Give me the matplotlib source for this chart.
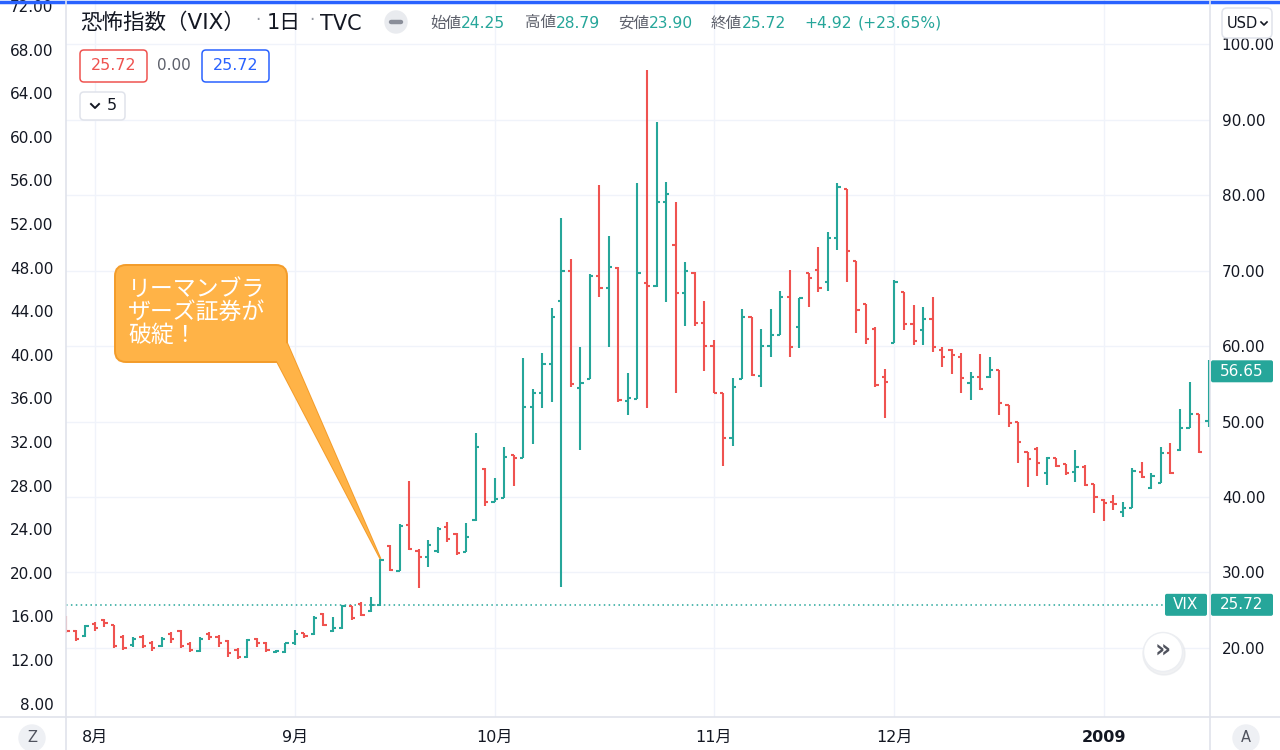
import matplotlib

matplotlib.use("Agg")
import matplotlib.pyplot as plt
import numpy as np
import pandas as pd
from matplotlib.patches import Circle, FancyBboxPatch, Polygon

plt.rcParams["font.family"] = ["DejaVu Sans", "Noto Sans CJK JP"]

# daily VIX bars
dates = [
    "2008-07-29", "2008-07-30", "2008-07-31",
    "2008-08-01", "2008-08-04", "2008-08-05", "2008-08-06", "2008-08-07", "2008-08-08",
    "2008-08-11", "2008-08-12", "2008-08-13", "2008-08-14", "2008-08-15",
    "2008-08-18", "2008-08-19", "2008-08-20", "2008-08-21", "2008-08-22",
    "2008-08-25", "2008-08-26", "2008-08-27", "2008-08-28", "2008-08-29",
    "2008-09-02", "2008-09-03", "2008-09-04", "2008-09-05",
    "2008-09-08", "2008-09-09", "2008-09-10", "2008-09-11", "2008-09-12",
    "2008-09-15", "2008-09-16", "2008-09-17", "2008-09-18", "2008-09-19",
    "2008-09-22", "2008-09-23", "2008-09-24", "2008-09-25", "2008-09-26",
    "2008-09-29", "2008-09-30",
    "2008-10-01", "2008-10-02", "2008-10-03",
    "2008-10-06", "2008-10-07", "2008-10-08", "2008-10-09", "2008-10-10",
    "2008-10-13", "2008-10-14", "2008-10-15", "2008-10-16", "2008-10-17",
    "2008-10-20", "2008-10-21", "2008-10-22", "2008-10-23", "2008-10-24",
    "2008-10-27", "2008-10-28", "2008-10-29", "2008-10-30", "2008-10-31",
    "2008-11-03", "2008-11-04", "2008-11-05", "2008-11-06", "2008-11-07",
    "2008-11-10", "2008-11-11", "2008-11-12", "2008-11-13", "2008-11-14",
    "2008-11-17", "2008-11-18", "2008-11-19", "2008-11-20", "2008-11-21",
    "2008-11-24", "2008-11-25", "2008-11-26", "2008-11-28",
    "2008-12-01", "2008-12-02", "2008-12-03", "2008-12-04", "2008-12-05",
    "2008-12-08", "2008-12-09", "2008-12-10", "2008-12-11", "2008-12-12",
    "2008-12-15", "2008-12-16", "2008-12-17", "2008-12-18", "2008-12-19",
    "2008-12-22", "2008-12-23", "2008-12-24", "2008-12-26",
    "2008-12-29", "2008-12-30", "2008-12-31",
    "2009-01-02", "2009-01-05", "2009-01-06", "2009-01-07", "2009-01-08",
    "2009-01-09", "2009-01-12", "2009-01-13", "2009-01-14", "2009-01-15",
    "2009-01-16", "2009-01-20",
]
opens = [
    24.0, 22.2, 21.6,
    23.2, 23.7, 23.0, 21.5, 20.4, 21.5,
    20.6, 20.3, 21.8, 22.2, 20.5,
    19.6, 21.9, 21.5, 20.9, 19.8,
    18.8, 21.2, 20.6, 19.5, 19.5,
    20.6, 22.0, 21.8, 24.5,
    22.3, 22.6, 25.5, 25.8, 24.9,
    25.7, 33.5, 30.2, 36.3, 32.9,
    32.1, 32.8, 36.0, 35.1, 32.7,
    36.9, 43.7,
    39.4, 39.9, 45.5,
    45.2, 51.9, 53.8, 57.6, 66.0,
    70.0, 54.5, 55.6, 69.3, 67.7,
    70.3, 52.7, 53.0, 68.4, 67.9,
    79.1, 73.4, 67.0, 69.7, 63.0,
    60.0, 53.8, 47.8, 55.6, 63.8,
    56.0, 60.0, 61.5, 66.5, 62.5,
    69.7, 70.1, 68.5, 74.3, 80.8,
    71.3, 65.5, 62.3, 55.9,
    60.4, 67.2, 62.9, 62.1, 63.6,
    59.5, 59.5, 58.5, 55.1, 55.9,
    55.9, 56.8, 52.2, 49.9, 46.0,
    46.3, 43.2, 45.2, 44.4,
    43.3, 44.0, 41.7,
    39.6, 39.4, 38.0, 38.5, 43.3,
    41.2, 41.9, 45.8, 46.2, 49.1,
    51.0, 50.1,
]
highs = [
    24.2, 22.4, 23.0,
    23.4, 23.8, 23.0, 21.7, 21.4, 21.7,
    20.9, 21.4, 22.1, 22.4, 20.8,
    21.4, 22.1, 21.7, 21.1, 20.0,
    21.2, 21.3, 20.8, 19.7, 20.7,
    22.4, 22.0, 24.2, 24.6,
    24.1, 25.7, 25.6, 26.1, 26.8,
    31.8, 33.6, 36.4, 42.1, 33.1,
    34.3, 36.0, 36.7, 35.2, 36.6,
    48.5, 43.8,
    42.5, 46.6, 45.6,
    58.4, 54.3, 59.1, 65.0, 77.0,
    71.5, 59.9, 69.5, 81.3, 74.6,
    70.5, 56.4, 81.6, 96.6, 89.7,
    81.7, 79.1, 71.1, 69.8, 66.0,
    60.8, 53.8, 55.8, 64.9, 63.8,
    62.3, 64.9, 67.3, 70.1, 66.4,
    69.7, 73.1, 75.1, 81.6, 80.8,
    71.3, 65.6, 62.5, 57.0,
    68.7, 67.2, 65.4, 65.2, 66.5,
    59.9, 59.6, 59.1, 56.6, 58.9,
    58.5, 56.8, 52.2, 49.9, 46.0,
    46.6, 45.3, 45.2, 44.4,
    46.2, 44.2, 41.7,
    39.7, 40.3, 39.3, 43.8, 44.6,
    43.2, 46.6, 47.2, 51.7, 55.2,
    51.0, 58.1,
]
lows = [
    22.0, 20.9, 21.4,
    22.2, 22.8, 20.0, 19.7, 20.1, 20.0,
    19.6, 20.1, 20.6, 20.0, 19.5,
    19.5, 21.0, 20.1, 18.8, 18.5,
    18.7, 20.1, 19.5, 19.3, 19.4,
    20.4, 21.3, 21.7, 22.9,
    22.1, 22.5, 23.7, 24.2, 24.8,
    25.6, 30.2, 30.2, 33.0, 28.0,
    30.7, 32.6, 34.0, 32.3, 32.7,
    36.8, 38.8,
    39.3, 39.9, 41.5,
    45.2, 47.0, 51.8, 52.6, 28.1,
    54.6, 46.2, 55.6, 66.5, 59.9,
    52.6, 50.9, 53.0, 51.8, 67.8,
    65.8, 53.8, 62.6, 62.6, 56.7,
    53.8, 44.1, 46.8, 55.6, 56.0,
    54.6, 58.5, 61.5, 58.5, 59.7,
    65.2, 67.2, 67.3, 72.7, 68.5,
    61.7, 60.3, 54.6, 50.5,
    60.4, 62.1, 60.1, 60.1, 59.2,
    57.2, 56.3, 53.8, 52.8, 54.2,
    55.8, 50.9, 49.3, 44.5, 41.3,
    42.8, 41.6, 44.0, 42.9,
    42.0, 41.4, 37.9,
    36.8, 38.3, 37.4, 38.5, 42.5,
    41.1, 41.9, 43.1, 46.1, 49.1,
    45.8, 49.3,
]
closes = [
    22.2, 21.2, 22.9,
    22.6, 23.3, 20.2, 20.0, 21.2, 20.3,
    20.0, 21.2, 21.2, 20.2, 19.8,
    21.2, 21.4, 20.6, 19.4, 18.8,
    21.0, 20.6, 19.8, 19.6, 20.6,
    21.9, 21.6, 24.0, 23.1,
    22.6, 25.5, 24.0, 24.4, 25.7,
    31.7, 30.3, 36.2, 33.1, 32.1,
    33.6, 35.7, 34.5, 32.6, 34.7,
    46.6, 39.3,
    39.8, 45.3, 45.1,
    51.9, 53.8, 57.6, 63.8, 69.9,
    55.0, 55.1, 69.3, 67.7, 70.4,
    52.9, 53.1, 69.7, 67.9, 79.1,
    80.1, 67.0, 69.9, 63.0, 60.0,
    53.8, 47.8, 54.6, 63.8, 56.2,
    60.0, 61.5, 66.5, 59.9, 66.4,
    69.0, 67.7, 74.3, 81.1, 72.6,
    64.8, 60.9, 54.8, 55.2,
    68.5, 62.9, 60.7, 63.6, 59.9,
    58.5, 58.8, 55.8, 55.9, 54.3,
    56.8, 52.5, 49.8, 47.3, 45.0,
    44.5, 45.2, 44.1, 43.2,
    44.0, 41.6, 40.0,
    39.2, 39.1, 38.5, 43.4, 42.7,
    42.8, 45.8, 43.2, 49.1, 51.0,
    46.0, 56.65,
]

last_close = 56.65
line_value = 25.72
right_ticks = [20, 30, 40, 50, 60, 70, 80, 90, 100]
left_ticks = [8, 12, 16, 20, 24, 28, 32, 36, 40, 44, 48, 52, 56, 60, 64, 68, 72]

UP = "#26a69a"
DOWN = "#ef5350"
GRID = "#f0f3fa"
BORDER = "#e0e3eb"
TEXT = "#131722"
MUTED = "#5d606b"

df = pd.DataFrame({"date": pd.to_datetime(dates), "open": opens, "high": highs,
                   "low": lows, "close": closes})
x = np.arange(len(df))
colors = np.where(df["close"] >= df["open"], UP, DOWN)

fig = plt.figure(figsize=(12.8, 7.5), dpi=100, facecolor="white")
W, H = 1280, 750
ax_l, ax_r, ax_t, ax_b = 66, 1210, 0, 717
ax = fig.add_axes([ax_l / W, (H - ax_b) / H, (ax_r - ax_l) / W, (ax_b - ax_t) / H])
ax.set_xlim(-0.04, 120.15)
ax.set_ylim(10.86, 105.83)

# month gridlines at first trading day of each month
month_start = df.index[df["date"].dt.month != df["date"].dt.month.shift()].tolist()[1:]
month_labels = []
for i in month_start:
    d = df["date"][i]
    month_labels.append(str(d.year) if d.month == 1 else f"{d.month}月")
for i in month_start:
    ax.axvline(i, color=GRID, lw=1, zorder=0)
for v in right_ticks:
    ax.axhline(v, color=GRID, lw=1, zorder=0)

# OHLC bars
tick_w = 0.34
ax.vlines(x, df["low"], df["high"], colors=colors, lw=1.5, zorder=3)
ax.hlines(df["open"], x - tick_w, x, colors=colors, lw=1.5, zorder=3)
ax.hlines(df["close"], x, x + tick_w, colors=colors, lw=1.5, zorder=3)

ax.axhline(line_value, xmax=(1165 - ax_l) / (ax_r - ax_l), color=UP, lw=1.1,
           ls=(0, (1, 2.2)), zorder=2)

for s in ax.spines.values():
    s.set_visible(False)

ax.yaxis.tick_right()
ax.set_yticks(right_ticks)
ax.set_yticklabels([f"{v:.2f}" for v in right_ticks])
ax.tick_params(axis="y", length=0, pad=8.5, labelsize=11, labelcolor=TEXT)
ax.set_xticks(month_start)
ax.set_xticklabels(month_labels)
ax.tick_params(axis="x", length=0, pad=9, labelsize=11.5, labelcolor=TEXT)
for lab in ax.get_xticklabels():
    if lab.get_text() == "2009":
        lab.set_fontweight("bold")


def r2l(r):
    return -0.756 + 0.6927 * np.asarray(r)


def l2r(l):
    return (np.asarray(l) + 0.756) / 0.6927


sec = ax.secondary_yaxis("left", functions=(r2l, l2r))
sec.set_yticks(left_ticks)
sec.set_yticklabels([f"{v:.2f}" for v in left_ticks])
sec.tick_params(length=0, pad=9, labelsize=11, labelcolor=TEXT)
sec.spines["left"].set_visible(False)

# pixel overlay for the chrome around the chart
ov = fig.add_axes([0, 0, 1, 1], zorder=5)
ov.set_xlim(0, W)
ov.set_ylim(H, 0)
ov.axis("off")
ov.patch.set_alpha(0)

ov.plot([0, W], [1.5, 1.5], color="#2962ff", lw=2.5)
ov.plot([0, W], [ax_b, ax_b], color=BORDER, lw=1.2)
ov.plot([ax_l, ax_l], [0, H], color=BORDER, lw=1.2)
ov.plot([ax_r, ax_r], [0, H], color=BORDER, lw=1.2)

# header legend
ov.text(80, 23, "恐怖指数（VIX）", fontsize=15.5, color=TEXT, va="center")
ov.text(258, 20, "·", fontsize=12, color="#9598a1", va="center", ha="center")
ov.text(267, 23, "1日", fontsize=15, color=TEXT, va="center")
ov.text(312, 20, "·", fontsize=12, color="#9598a1", va="center", ha="center")
ov.text(320, 24, "TVC", fontsize=15, color=TEXT, va="center")
ov.add_patch(Circle((396, 22), 11, color="#e9ebef"))
ov.plot([391, 401], [22, 22], color="#8a8e99", lw=3.2, solid_capstyle="round")
legend_parts = [(430, "始値", MUTED), (461, "24.25", UP), (525, "高値", MUTED),
                (556, "28.79", UP), (618, "安値", MUTED), (649, "23.90", UP),
                (711, "終値", MUTED), (742, "25.72", UP), (804, "+4.92", UP),
                (858, "(+23.65%)", UP)]
for px, s, c in legend_parts:
    ov.text(px, 23, s, fontsize=11.2, color=c, va="center")

ov.add_patch(FancyBboxPatch((80, 50), 67, 32, boxstyle="round,pad=0,rounding_size=4",
                            fc="white", ec=DOWN, lw=1.1))
ov.text(113.5, 66, "25.72", fontsize=11.5, color=DOWN, ha="center", va="center")
ov.text(174, 66, "0.00", fontsize=11, color=MUTED, ha="center", va="center")
ov.add_patch(FancyBboxPatch((202, 50), 67, 32, boxstyle="round,pad=0,rounding_size=4",
                            fc="white", ec="#2962ff", lw=1.1))
ov.text(235.5, 66, "25.72", fontsize=11.5, color="#2962ff", ha="center", va="center")
ov.add_patch(FancyBboxPatch((80, 92), 45, 28, boxstyle="round,pad=0,rounding_size=4",
                            fc="white", ec=BORDER, lw=1.1))
ov.plot([91, 95, 99], [104, 108, 104], color=TEXT, lw=1.4)
ov.text(107, 106, "5", fontsize=11.5, color=TEXT, va="center")

ov.add_patch(FancyBboxPatch((1222, 8), 50, 30, boxstyle="round,pad=0,rounding_size=5",
                            fc="white", ec=BORDER, lw=1.1))
ov.text(1227, 23, "USD", fontsize=10.5, color=TEXT, va="center")
ov.plot([1261, 1264, 1267], [22, 25, 22], color=TEXT, lw=1.2)


# price tags on the right scale
def tag(x0, width, value_y, label):
    y = H - ax.transData.transform((0, value_y))[1]
    ov.add_patch(FancyBboxPatch((x0, y - 11), width, 22, boxstyle="round,pad=0,rounding_size=2",
                                fc=UP, ec="none"))
    ov.text(x0 + width / 2, y, label, fontsize=11, color="white", ha="center", va="center")


tag(1211, 62, last_close, f"{last_close:.2f}")
tag(1211, 62, line_value, f"{line_value:.2f}")
tag(1165, 42, line_value, "VIX")

# scroll button and corner buttons
ov.add_patch(Circle((1164, 654), 21, color="#e6e8ec", alpha=0.6))
ov.add_patch(Circle((1163, 652), 19.5, fc="white", ec="#eceef2", lw=1))
ov.text(1163, 651, "»", fontsize=18, color="#50535e", ha="center", va="center",
        fontweight="bold")
ov.add_patch(Circle((32, 738), 13, color="#eef0f4"))
ov.text(32, 738, "Z", fontsize=10.5, color="#50535e", ha="center", va="center")
ov.add_patch(Circle((1246, 738), 13, color="#eef0f4"))
ov.text(1246, 738, "A", fontsize=10.5, color="#50535e", ha="center", va="center")

# callout pointing at the Lehman day bar
lehman = df.index[df["date"] == "2008-09-15"][0]
tx, ty = ax.transData.transform((lehman, df["high"][lehman]))
tip = (tx, H - ty)
fill, edge = "#ffb347", "#f39c2a"
pointer = [(272, 352), (287, 343), tip]
ov.add_patch(Polygon(pointer, closed=True, fc=fill, ec=edge, lw=1.4, zorder=1))
ov.add_patch(FancyBboxPatch((115, 265), 172, 97, boxstyle="round,pad=0,rounding_size=11",
                            fc=fill, ec=edge, lw=1.4, zorder=2))
ov.add_patch(Polygon(pointer, closed=True, fc=fill, ec="none", zorder=3))
ov.text(128, 312, "リーマンブラ\nザーズ証券が\n破綻！", fontsize=16.5, color="white",
        va="center", ha="left", linespacing=1.0, zorder=4, family="Noto Sans CJK JP")

fig.savefig("out.png", dpi=100, facecolor="white")
